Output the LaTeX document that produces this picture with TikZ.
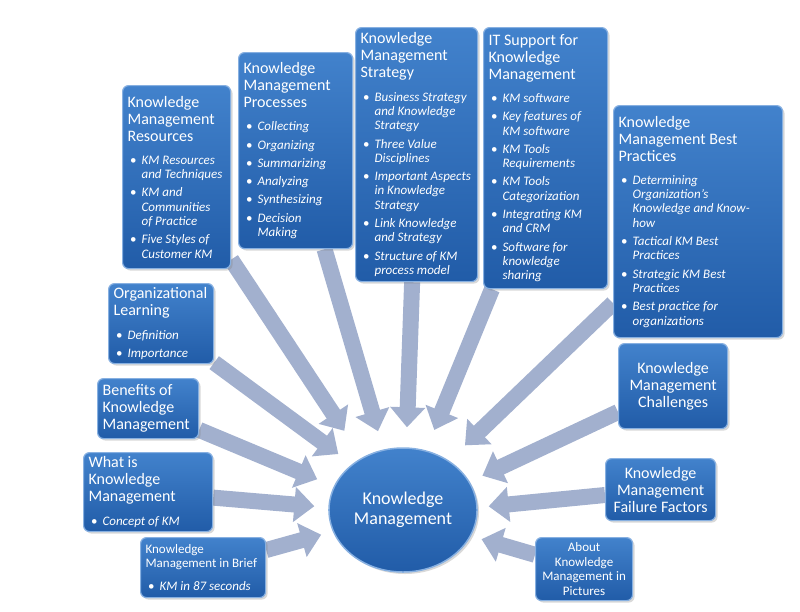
\documentclass[tikz,border=0pt]{standalone}
\usepackage{fontspec}
\setmainfont{Carlito}
\usetikzlibrary{arrows.meta,shapes.geometric,shadows}

\definecolor{kmtop}{RGB}{66,130,204}
\definecolor{kmbot}{RGB}{33,92,168}
\definecolor{kmrim}{RGB}{135,176,225}
\definecolor{kmarrowc}{RGB}{162,176,206}

\newcommand{\kmhead}{\fontsize{16}{17}\selectfont}
\newcommand{\kmfix}{\spaceskip=0pt\xspaceskip=0pt\relax}
\newcommand{\kmlist}{\par\vspace{5pt}}
\newcommand{\kmitem}[1]{\par\vspace{4pt}\fontsize{13}{14.3}\selectfont
  \kmfix\leftskip=14pt\rightskip=0pt plus 1fil\noindent
  \llap{\textbullet\hspace{5pt}}\textit{#1}\par}

\pgfdeclarelayer{bg}
\pgfsetlayers{bg,main}

\begin{document}
\begin{tikzpicture}[x=1pt,y=-1pt,
  kmbox/.style={rounded corners=6pt, draw=kmrim, line width=1.2pt,
    top color=kmtop, bottom color=kmbot, text=white, anchor=north west,
    inner xsep=5pt, inner ysep=4pt, align=left, font=\kmhead,
    execute at begin node=\kmfix,
    drop shadow={shadow xshift=2pt, shadow yshift=-2pt, opacity=0.3}},
  kmcbox/.style={kmbox, align=center},
  kmoval/.style={ellipse, draw=kmrim, line width=1.5pt, top color=kmtop,
    bottom color=kmbot, text=white, align=center,
    font=\fontsize{18}{19.5}\selectfont,
    minimum width=148pt, minimum height=124pt,
    drop shadow={shadow xshift=2pt, shadow yshift=-2pt, opacity=0.3}},
  kmarrow/.style={draw=kmarrowc, line width=16pt,
    -{Triangle[length=20pt,width=34pt]}}]
  \useasboundingbox (0,0) rectangle (800,611);

  % centre
  \node[kmoval] (km) at (403,510) {Knowledge\\Management};

  % upper boxes
  \node[kmbox, text width=98pt, minimum height=183pt] (res) at (122,85)
    {Knowledge\\Management\\Resources\kmlist
     \kmitem{KM Resources\break and Techniques}
     \kmitem{KM and\break Communities\break of Practice}
     \kmitem{Five Styles of\break Customer KM}};
  \node[kmbox, text width=104pt, minimum height=196pt] (proc) at (238,52)
    {Knowledge\\Management\\Processes\kmlist
     \kmitem{Collecting}
     \kmitem{Organizing}
     \kmitem{Summarizing}
     \kmitem{Analyzing}
     \kmitem{Synthesizing}
     \kmitem{Decision\break Making}};
  \node[kmbox, text width=112pt, minimum height=254pt] (strat) at (355,27)
    {Knowledge\\Management\\Strategy\kmlist
     \kmitem{Business Strategy\break and Knowledge\break Strategy}
     \kmitem{Three Value\break Disciplines}
     \kmitem{Important Aspects\break in Knowledge\break Strategy}
     \kmitem{Link Knowledge\break and Strategy}
     \kmitem{Structure of KM\break process model}};
  \node[kmbox, text width=114pt, minimum height=261pt] (its) at (483,27)
    {IT Support for\\Knowledge\\Management\kmlist
     \kmitem{KM software}
     \kmitem{Key features of\break KM software}
     \kmitem{KM Tools\break Requirements}
     \kmitem{KM Tools\break Categorization}
     \kmitem{Integrating KM\break and CRM}
     \kmitem{Software for\break knowledge\break sharing}};
  \node[kmbox, text width=159pt, minimum height=232pt] (best) at (613,105)
    {Knowledge\\Management Best\\Practices\kmlist
     \kmitem{Determining\break Organization's\break Knowledge and Know-\break how}
     \kmitem{Tactical KM Best\break Practices}
     \kmitem{Strategic KM Best\break Practices}
     \kmitem{Best practice for\break organizations}};

  % left boxes
  \node[kmbox, text width=95pt, minimum height=80pt] (org) at (108,283)
    {Organizational\\Learning\kmlist
     \kmitem{Definition}
     \kmitem{Importance}};
  \node[kmbox, text width=91pt, minimum height=60pt] (ben) at (97,378)
    {Benefits of\\Knowledge\\Management};
  \node[kmbox, text width=119pt, minimum height=79pt] (what) at (83,452)
    {What is\\Knowledge\\Management\kmlist
     \kmitem{Concept of KM}};
  \node[kmbox, text width=115pt, minimum height=60pt,
    font=\fontsize{13}{14.5}\selectfont] (brief) at (140,537)
    {Knowledge\\Management in Brief\kmlist
     \kmitem{KM in 87 seconds}};

  % right boxes
  \node[kmcbox, text width=99pt, minimum height=85pt] (chal) at (618,343)
    {Knowledge\\Management\\Challenges};
  \node[kmcbox, text width=100pt, minimum height=62pt] (fail) at (605,458)
    {Knowledge\\Management\\Failure Factors};
  \node[kmcbox, text width=87pt, minimum height=63pt,
    font=\fontsize{13}{14.5}\selectfont] (pics) at (535,537)
    {About\\Knowledge\\Management in\\Pictures};

  % arrows into the centre
  \begin{pgfonlayer}{bg}
    \foreach \b/\a/\s in {res/128/32pt, proc/108/19pt, strat/87/20pt,
        its/69/22pt, best/47/22pt, org/138/17pt, ben/161/18pt,
        what/178/14pt, brief/197/12pt, chal/23/14pt, fail/2/11pt,
        pics/-21/11pt}
      \draw[kmarrow, shorten >=\s] (\b) -- (km.\a);
  \end{pgfonlayer}
\end{tikzpicture}
\end{document}
